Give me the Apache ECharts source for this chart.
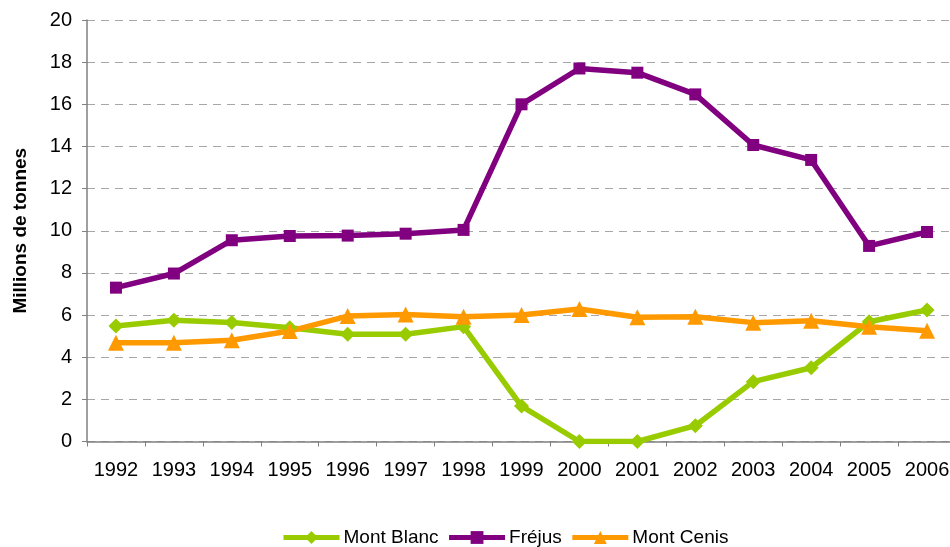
<!DOCTYPE html>
<html>
<head>
<meta charset="utf-8">
<script src="https://cdn.jsdelivr.net/npm/echarts@6/dist/echarts.min.js"></script>
<style>
  html, body { margin: 0; padding: 0; background: #ffffff; }
  #chart { width: 950px; height: 547px; }
</style>
</head>
<body>
<div id="chart"></div>
<script>
// Annual freight traffic through the Alpine tunnels (millions of tonnes)
const years = ['1992','1993','1994','1995','1996','1997','1998','1999','2000','2001','2002','2003','2004','2005','2006'];
const montBlanc = [5.48, 5.75, 5.65, 5.4, 5.09, 5.09, 5.45, 1.68, 0, 0, 0.75, 2.84, 3.5, 5.68, 6.24];
const frejus    = [7.3, 7.97, 9.55, 9.75, 9.77, 9.86, 10.04, 16.0, 17.7, 17.5, 16.47, 14.07, 13.36, 9.28, 9.94];
const montCenis = [4.69, 4.69, 4.8, 5.24, 5.95, 6.03, 5.92, 6.0, 6.29, 5.9, 5.92, 5.64, 5.73, 5.45, 5.26];
const yTicks = { min: 0, max: 20, interval: 2 };

const FONT = '"Liberation Sans", Arial, sans-serif';

function lineSeries(name, data, color, symbol, size) {
  return {
    name: name,
    type: 'line',
    data: data,
    symbol: symbol,
    symbolSize: size,
    showSymbol: true,
    lineStyle: { color: color, width: 5.5 },
    itemStyle: { color: color },
    emphasis: { disabled: true },
    animation: false
  };
}

const chart = echarts.init(document.getElementById('chart'), null, { renderer: 'canvas' });
chart.setOption({
  backgroundColor: '#ffffff',
  animation: false,
  grid: { left: 87, top: 20, width: 869, height: 421.5, containLabel: false, outerBoundsMode: 'none' },
  legend: {
    top: 523,
    left: 276,
    itemWidth: 56,
    itemHeight: 16,
    itemGap: 8,
    lineStyle: { width: 5 },
    textStyle: { fontFamily: FONT, fontSize: 19, color: '#000000', padding: [0, 0, 0, -1] },
    data: ['Mont Blanc', 'Fréjus', 'Mont Cenis']
  },
  xAxis: {
    type: 'category',
    data: years,
    boundaryGap: true,
    axisLine: { lineStyle: { color: '#808080', width: 1.5 } },
    axisTick: { show: true, length: 5, lineStyle: { color: '#808080' } },
    axisLabel: { fontFamily: FONT, fontSize: 20, color: '#000000', margin: 19, interval: 0 },
    splitLine: { show: false }
  },
  yAxis: {
    type: 'value',
    min: yTicks.min,
    max: yTicks.max,
    interval: yTicks.interval,
    name: 'Millions de tonnes',
    nameLocation: 'middle',
    nameRotate: 90,
    nameGap: 57,
    nameTextStyle: { fontFamily: FONT, fontSize: 19, fontWeight: 'bold', color: '#000000' },
    axisLine: { show: true, lineStyle: { color: '#808080', width: 1.5 } },
    axisTick: { show: true, length: 5, lineStyle: { color: '#808080' } },
    axisLabel: { fontFamily: FONT, fontSize: 20, color: '#000000', margin: 15 },
    splitLine: { show: true, lineStyle: { color: '#a6a6a6', type: [8, 6], width: 1 } }
  },
  series: [
    lineSeries('Mont Blanc', montBlanc, '#99cc00', 'diamond', 15),
    lineSeries('Fréjus', frejus, '#800080', 'rect', 12),
    lineSeries('Mont Cenis', montCenis, '#ff9900', 'triangle', 16)
  ]
});
</script>
</body>
</html>
